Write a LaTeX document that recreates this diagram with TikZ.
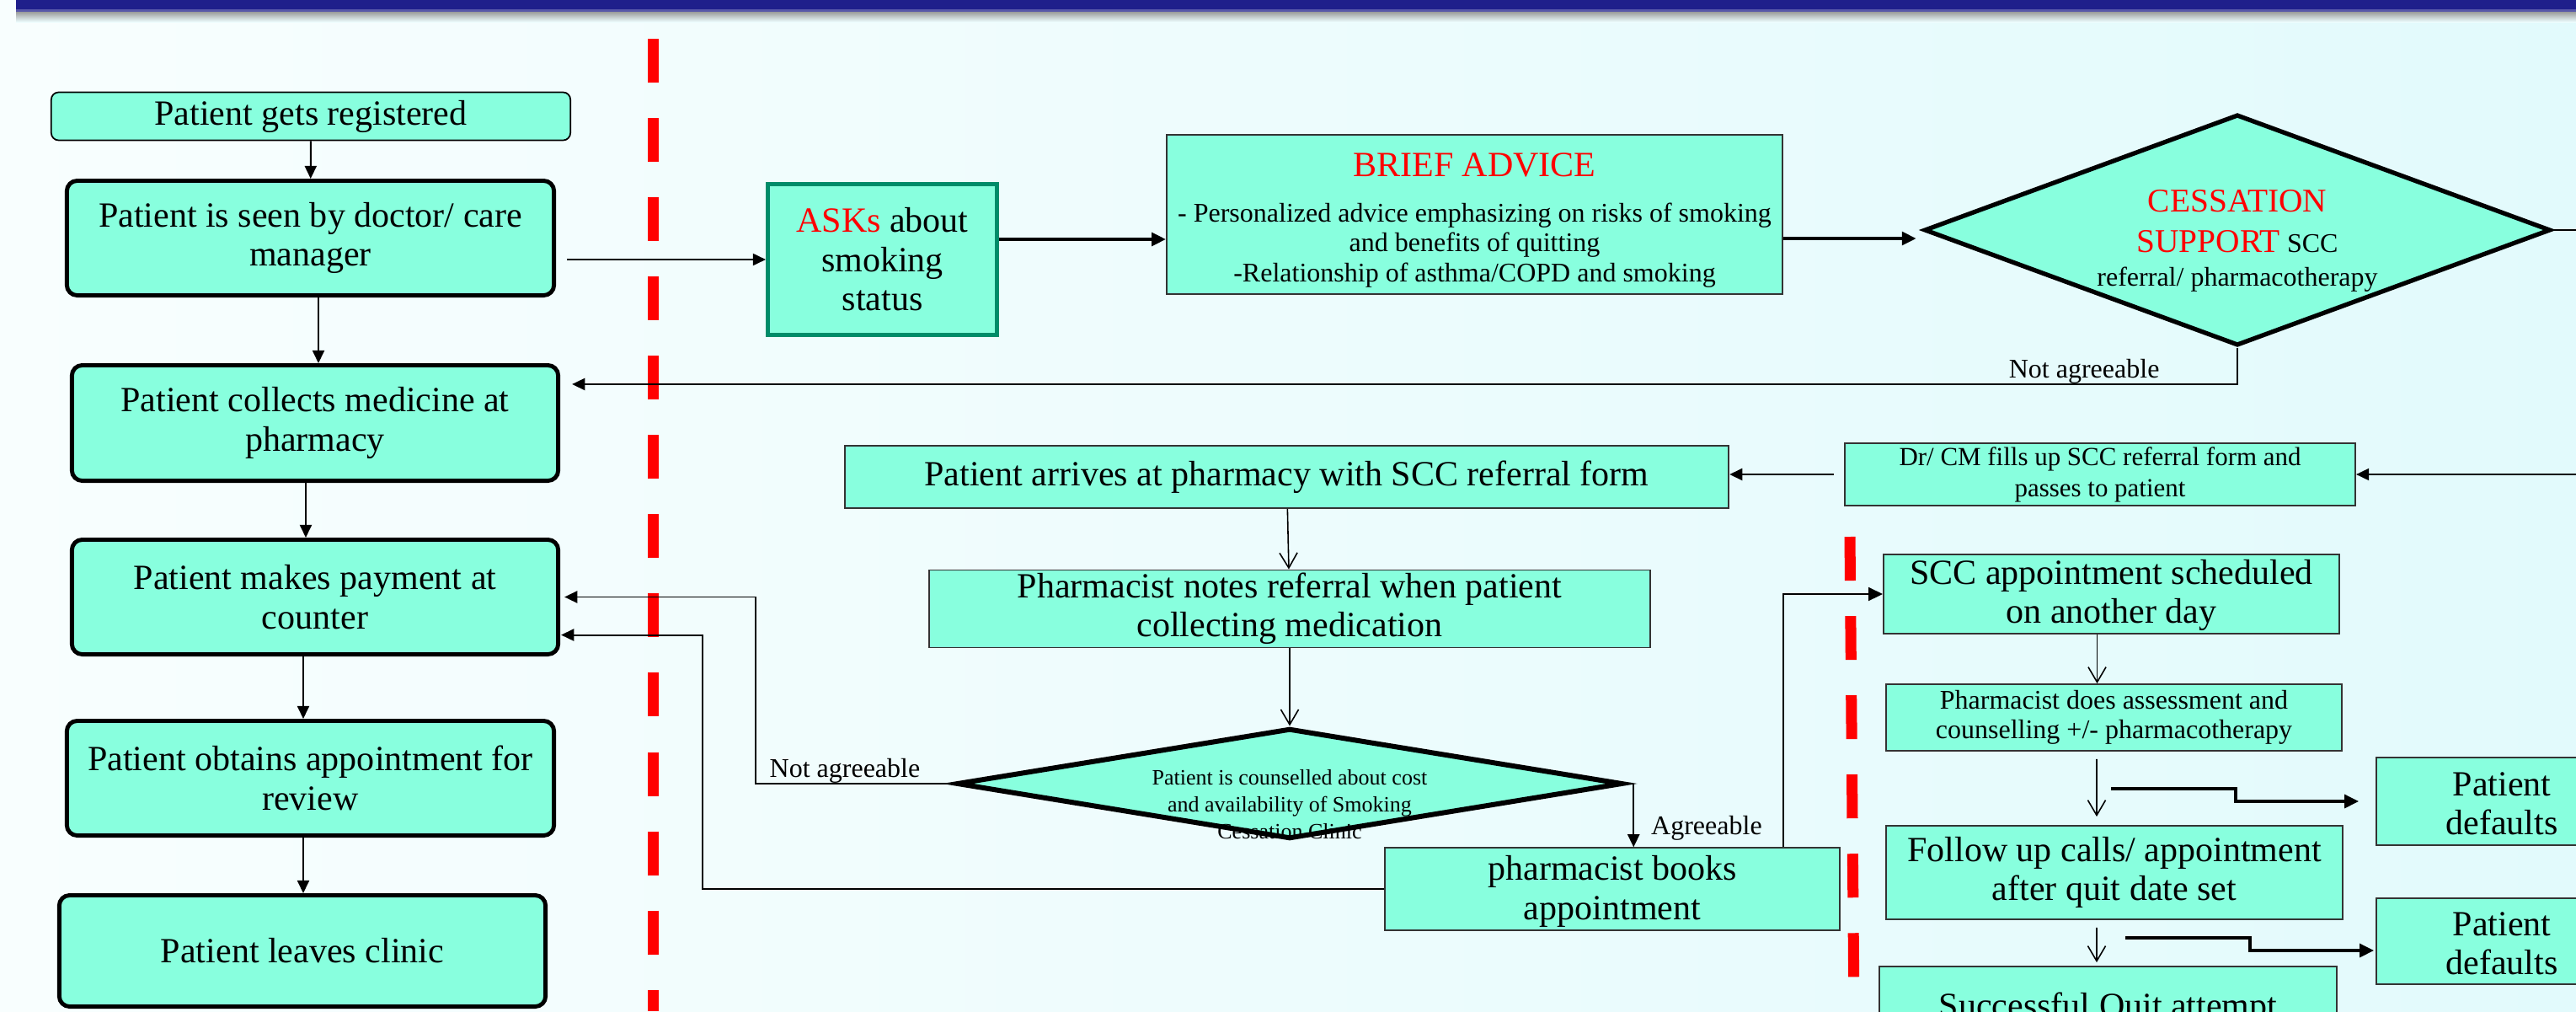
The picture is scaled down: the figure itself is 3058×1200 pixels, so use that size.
\documentclass[tikz,border=0pt]{standalone}
\usepackage{fontspec}
\setmainfont{Liberation Serif}
\usetikzlibrary{shapes.geometric,arrows.meta}

\definecolor{boxfill}{RGB}{136,255,222}
\definecolor{askline}{RGB}{0,140,105}
\definecolor{barblue}{RGB}{31,31,139}
\definecolor{bgleft}{RGB}{248,254,254}
\definecolor{bgright}{RGB}{226,250,252}

\begin{document}
\begin{tikzpicture}[
    x=0.01cm, y=-0.01cm,
    bigtxt/.style={font=\fontsize{11.95}{13.2}\selectfont},
    smalltxt/.style={font=\fontsize{9.1}{10.1}\selectfont},
    lbox/.style={
        draw,
        line width=1.4pt,
        rounded corners=3.5pt,
        fill=boxfill,
        align=center,
        inner sep=1pt,
        bigtxt
    },
    pbox/.style={draw=black!80, line width=0.5pt, fill=boxfill, align=center, inner sep=1pt},
    decision/.style={diamond, draw, line width=1.5pt, fill=boxfill, inner sep=0pt, align=center},
    arrow/.style={-{Triangle[length=4.3pt,width=4pt]}, line width=0.55pt},
    openarrow/.style={-{Straight Barb[length=5.1pt,width=6pt]}, line width=0.45pt},
    bigarrow/.style={-{Triangle[length=4.8pt,width=4.5pt]}, line width=1pt},
    redline/.style={red, line width=3.7pt, dash pattern=on 0.52cm off 0.42cm}
]
    \useasboundingbox (0,0) rectangle (3058,1200);
    \clip (0,0) rectangle (3058,1200);

    % background and title bar
    \shade[left color=bgleft, right color=bgright] (0,0) rectangle (3058,1200);
    \shade[top color=black!45, bottom color=bgleft!50!bgright] (19,12) rectangle (3058,26);
    \fill[barblue] (19,0) rectangle (3058,11);
    \fill[barblue!75!white] (19,11) rectangle (3058,14);

    % separators
    \draw[redline] (775,46) -- (775,1200);
    \draw[redline] (2196,637) -- (2201,1200);

    % clinic flow
    \node[lbox, line width=0.5pt, rounded corners=2.5pt, minimum width=6.16cm, minimum height=0.57cm] (reg) at (369,138) {Patient gets registered};
    \node[lbox, minimum width=5.78cm, minimum height=1.36cm] (seen) at (368.5,282.5) {Patient is seen by doctor/ care\\manager};
    \node[lbox, minimum width=5.77cm, minimum height=1.37cm] (collect) at (374,502) {Patient collects medicine at\\pharmacy};
    \node[lbox, minimum width=5.77cm, minimum height=1.36cm] (pay) at (374,708.5) {Patient makes payment at\\counter};
    \node[lbox, minimum width=5.78cm, minimum height=1.36cm] (obtain) at (368.5,923.5) {Patient obtains appointment for\\review};
    \node[lbox, minimum width=5.77cm, minimum height=1.32cm] (leave) at (359,1128.5) {Patient leaves clinic};

    % brief intervention
    \node[pbox, draw=askline, line width=1.4pt, minimum width=2.72cm, minimum height=1.79cm, bigtxt] (asks) at (1047.5,308) {\textcolor{red}{ASKs} about\\smoking\\status};
    \node[pbox, minimum width=7.31cm, minimum height=1.89cm, smalltxt] (brief) at (1750.5,254.5) {\rule{0pt}{11.9pt}{\fontsize{11.95}{13.2}\selectfont\textcolor{red}{BRIEF ADVICE}}\\[5pt]- Personalized advice emphasizing on risks of smoking\\and benefits of quitting\\-Relationship of asthma/COPD and smoking};
    \node[decision, minimum width=7.43cm, minimum height=2.74cm] (cess) at (2656,273) {};
    \node[align=center, inner sep=0pt, font=\fontsize{9.1}{11.4}\selectfont] (cesstxt) at (2656,286) {{\fontsize{11.2}{12}\selectfont\textcolor{red}{CESSATION}}\\[2pt]{\fontsize{11.2}{12}\selectfont\textcolor{red}{SUPPORT}} SCC\\referral/ pharmacotherapy};

    % pharmacy
    \node[pbox, font=\fontsize{8.8}{10.5}\selectfont, minimum width=6.06cm, minimum height=0.74cm] (drcm) at (2493,563) {Dr/ CM fills up SCC referral form and\\passes to patient};
    \node[pbox, bigtxt, minimum width=10.49cm, minimum height=0.74cm] (arrive) at (1527.5,566) {Patient arrives at pharmacy with SCC referral form};
    \node[pbox, bigtxt, minimum width=8.56cm, minimum height=0.91cm] (notes) at (1531,722.5) {Pharmacist notes referral when patient\\collecting medication};
    \node[decision, line width=1.7pt, minimum width=7.90cm, minimum height=1.31cm] (couns) at (1531,930) {};
    \node[align=center, font=\fontsize{7.4}{9.1}\selectfont] (counstxt) at (1531,955) {Patient is counselled about cost\\and availability of Smoking\\Cessation Clinic};
    \node[pbox, bigtxt, minimum width=5.40cm, minimum height=0.80cm] (books) at (1914,1055) {\rule{0pt}{10pt}pharmacist books\\appointment};

    % smoking cessation clinic
    \node[pbox, bigtxt, minimum width=5.41cm, minimum height=0.80cm] (scc) at (2506.5,705) {\rule{0pt}{9pt}SCC appointment scheduled\\on another day};
    \node[pbox, smalltxt, minimum width=5.41cm, minimum height=0.79cm] (does) at (2509.5,851.5) {Pharmacist does assessment and\\counselling +/- pharmacotherapy};
    \node[pbox, bigtxt, minimum width=5.42cm, minimum height=1.11cm] (follow) at (2510,1035.5) {Follow up calls/ appointment\\after quit date set};
    \node[pbox, bigtxt, minimum width=5.43cm, minimum height=1.00cm] (success) at (2502.5,1197) {Successful Quit attempt};
    \node[pbox, bigtxt, minimum width=2.98cm, minimum height=1.04cm] (def1) at (2970,951) {\rule{0pt}{9.5pt}Patient\\defaults};
    \node[pbox, bigtxt, minimum width=2.98cm, minimum height=1.02cm] (def2) at (2970,1117) {\rule{0pt}{9.5pt}Patient\\defaults};

    \coordinate (edgeA) at (3058,273);
    \coordinate (edgeB) at (3058,563);
    \coordinate (defA) at (2506,936);
    \coordinate (defB) at (2523,1113);

    % left column
    \draw[arrow] (reg) -- (seen);
    \draw[arrow] ([xshift=0.095cm]seen.south) -- ([xshift=0.095cm]seen.south |- collect.north);
    \draw[arrow] ([xshift=-0.11cm]collect.south) -- ([xshift=-0.11cm]collect.south |- pay.north);
    \draw[arrow] ([xshift=-0.14cm]pay.south) -- ([xshift=-0.14cm]pay.south |- obtain.north);
    \draw[arrow] ([xshift=-0.085cm]obtain.south) -- ([xshift=-0.085cm]obtain.south |- leave.north);

    % top row
    \draw[arrow] ([xshift=0.13cm]seen.east |- asks.west) -- (asks.west);
    \draw[bigarrow] ([yshift=0.24cm]asks.east) -- ([yshift=0.24cm]asks.east -| brief.west);
    \draw[bigarrow] ([yshift=-0.285cm]brief.east) -- ([xshift=-0.07cm, yshift=-0.285cm]brief.east -| cess.west);
    \draw[line width=0.55pt] (cess.east) -- (edgeA);
    \draw[arrow] (cess.south) |- ([xshift=0.14cm, yshift=0.46cm]collect.east)
        node[pos=0.546, above, inner sep=0pt, smalltxt] (notagreeA) {Not agreeable};

    % pharmacy row
    \draw[arrow] (edgeB) -- (drcm.east);
    \draw[arrow] ([xshift=-0.12cm]drcm.west) -- (drcm.west -| arrive.east);
    \draw[openarrow] (arrive) -- (notes);
    \draw[openarrow] (notes) -- (couns);
    \draw[arrow] (couns.west) -- ++(-236,0)
        node[pos=0.55, above, inner sep=0pt, smalltxt] (notagreeB) {Not agreeable}
        |- ([xshift=0.05cm]pay.east);
    \draw[arrow] ([xshift=0.1cm]couns.east) -- ([xshift=0.1cm]couns.east |- books.north)
        node[pos=0.7, right, inner sep=0pt, xshift=0.2cm, smalltxt] (agree) {Agreeable};
    \draw[arrow] (books.west) -- ++(-809,0) |- ([xshift=0.01cm, yshift=-0.45cm]pay.east);
    \draw[bigarrow, line width=0.7pt] ([xshift=-0.68cm]books.north east) |- (scc.west);

    % clinic column
    \draw[openarrow] ([xshift=-0.17cm]scc.south) -- ([xshift=-0.17cm]scc.south |- does.north);
    \draw[openarrow] ([xshift=-0.205cm, yshift=-0.09cm]does.south) -- ([xshift=-0.21cm, yshift=0.1cm]follow.north);
    \draw[openarrow] ([xshift=-0.21cm, yshift=-0.09cm]follow.south) -- ([xshift=-0.135cm, yshift=0.04cm]success.north);
    \draw[bigarrow] (defA) -- ++(148,0) |- ([xshift=-0.2cm]def1.west);
    \draw[bigarrow] (defB) -- ++(148,0) |- ([xshift=-0.02cm, yshift=-0.11cm]def2.west);
\end{tikzpicture}
\end{document}
